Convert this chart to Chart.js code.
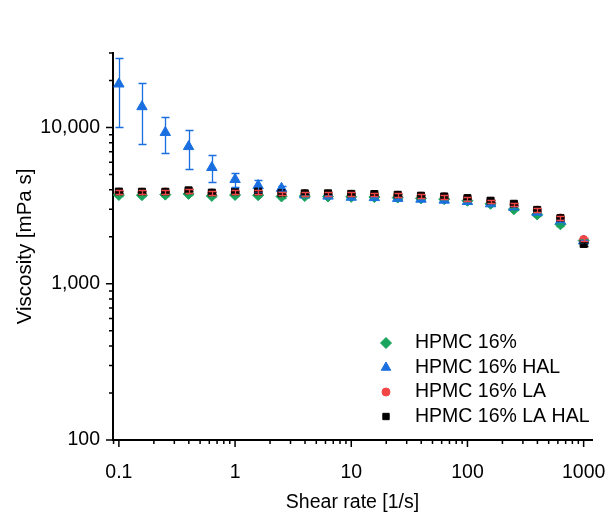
<!DOCTYPE html>
<html>
<head>
<meta charset="utf-8">
<script src="https://cdn.jsdelivr.net/npm/chart.js@4/dist/chart.umd.min.js"></script>
<style>
  html, body { margin: 0; padding: 0; background: #fff; }
  #wrap { width: 605px; height: 525px; }
</style>
</head>
<body>
<div id="wrap"><canvas id="chart"></canvas></div>
<script>
// shear rate [1/s]
const shearRate = [0.1, 0.158, 0.251, 0.398, 0.631, 1, 1.58, 2.51, 3.98, 6.31, 10, 15.8, 25.1, 39.8, 63.1, 100, 158, 251, 398, 631, 1000];

// viscosity [mPa s]
const hpmc = [3700, 3690, 3720, 3760, 3650, 3700, 3690, 3620, 3640, 3620, 3600, 3590, 3560, 3520, 3480, 3400, 3250, 3000, 2780, 2400, 1890];
const hpmcErr = [60, 60, 60, 60, 60, 60, 60, 60, 50, 50, 50, 50, 50, 50, 50, 50, 50, 50, 50, 50, 40];

const hpmcHal = [19000, 13600, 9300, 7550, 5550, 4650, 4250, 4080, 3700, 3640, 3580, 3560, 3520, 3480, 3430, 3360, 3250, 3080, 2850, 2520, 1880];
const hpmcHalErr = [8950, 5800, 2400, 2100, 1100, 500, 380, 150, 60, 50, 50, 50, 50, 50, 50, 50, 50, 50, 50, 50, 40];

const hpmcLa = [3860, 3860, 3870, 3930, 3810, 3860, 3860, 3790, 3770, 3760, 3740, 3720, 3690, 3640, 3600, 3510, 3370, 3220, 2960, 2640, 1920];
const hpmcLaErr = [110, 110, 110, 110, 110, 110, 110, 100, 100, 100, 100, 100, 100, 100, 100, 100, 90, 90, 80, 70, 50];

const hpmcLaHal = [3890, 3880, 3880, 3960, 3830, 3890, 3890, 3800, 3790, 3790, 3760, 3750, 3710, 3660, 3620, 3530, 3400, 3250, 2970, 2630, 1800];
const hpmcLaHalErr = [60, 60, 60, 60, 60, 60, 60, 60, 60, 60, 60, 60, 60, 60, 60, 60, 60, 60, 60, 60, 50];

const xTicks = [0.1, 1, 10, 100, 1000];
const yTicks = [100, 1000, 10000];

const FONT = 'Liberation Sans, Arial, sans-serif';

const toPoints = (ys) => shearRate.map((x, i) => ({ x: x, y: ys[i] }));

const series = [
  { label: 'HPMC 16%', data: hpmc, err: hpmcErr, color: '#19a35c', style: 'rectRot', r: 5.5, legR: 5.5, order: 3 },
  { label: 'HPMC 16% HAL', data: hpmcHal, err: hpmcHalErr, color: '#1a6fe0', style: 'triangle', r: 6, legR: 5.5, order: 2 },
  { label: 'HPMC 16% LA', data: hpmcLa, err: hpmcLaErr, color: '#f24646', style: 'circle', r: 4, legR: 4, order: 1 },
  { label: 'HPMC 16% LA HAL', data: hpmcLaHal, err: hpmcLaHalErr, color: '#000000', style: 'rect', r: 5, legR: 4.5, order: 0 },
];

// error bars, drawn after all markers
const errorBars = {
  id: 'errorBars',
  afterDatasetsDraw(chart) {
    const ctx = chart.ctx;
    const ys = chart.scales.y;
    const xs = chart.scales.x;
    const drawOrder = [0, 1, 3, 2];
    ctx.save();
    ctx.lineWidth = 1.3;
    drawOrder.forEach(di => {
      const s = series[di];
      ctx.strokeStyle = s.color;
      s.data.forEach((v, i) => {
        const px = Math.round(xs.getPixelForValue(shearRate[i])) + 0.5;
        const top = Math.round(ys.getPixelForValue(v + s.err[i])) + 0.5;
        const bot = Math.round(ys.getPixelForValue(v - s.err[i])) + 0.5;
        ctx.beginPath();
        ctx.moveTo(px, top); ctx.lineTo(px, bot);
        ctx.moveTo(px - 4, top); ctx.lineTo(px + 4, top);
        ctx.moveTo(px - 4, bot); ctx.lineTo(px + 4, bot);
        ctx.stroke();
      });
    });
    ctx.restore();
  }
};

// major and minor tick marks on the log axes
const logTicks = {
  id: 'logTicks',
  afterDraw(chart) {
    const ctx = chart.ctx;
    const xs = chart.scales.x;
    const ys = chart.scales.y;
    const area = chart.chartArea;
    ctx.save();
    ctx.strokeStyle = '#000';
    ctx.lineWidth = 1.5;
    ctx.beginPath();
    for (let e = -2; e <= 4; e++) {
      for (let m = 1; m <= 9; m++) {
        const v = m * Math.pow(10, e);
        const len = m === 1 ? 7 : 4;
        if (v >= xs.min * 0.9999 && v <= xs.max * 1.0001) {
          const px = xs.getPixelForValue(v);
          ctx.moveTo(px, area.bottom);
          ctx.lineTo(px, area.bottom + len);
        }
        if (v >= ys.min * 0.9999 && v <= ys.max * 1.0001) {
          const py = ys.getPixelForValue(v);
          ctx.moveTo(area.left, py);
          ctx.lineTo(area.left - len, py);
        }
      }
    }
    ctx.stroke();
    ctx.restore();
  }
};

// legend inside the plot, bottom right
const innerLegend = {
  id: 'innerLegend',
  afterDraw(chart) {
    const ctx = chart.ctx;
    const area = chart.chartArea;
    const mx = area.right - 206;
    const tx = area.right - 177;
    const y0 = area.bottom - 97;
    ctx.save();
    ctx.font = '19.5px ' + FONT;
    ctx.textBaseline = 'middle';
    ctx.textAlign = 'left';
    series.forEach((s, i) => {
      const y = y0 + i * 24.5;
      ctx.fillStyle = s.color;
      ctx.strokeStyle = s.color;
      ctx.lineWidth = 1;
      Chart.helpers.drawPoint(ctx, { pointStyle: s.style, radius: s.legR, rotation: 0, borderWidth: 1 }, mx, y);
      ctx.fillStyle = '#000';
      ctx.fillText(s.label, tx, y);
    });
    ctx.restore();
  }
};

new Chart(document.getElementById('chart'), {
  type: 'scatter',
  data: {
    datasets: series.map(s => ({
      label: s.label,
      data: toPoints(s.data),
      pointStyle: s.style,
      pointRadius: s.r,
      pointHoverRadius: s.r,
      backgroundColor: s.color,
      borderColor: s.color,
      borderWidth: 1,
      showLine: false,
      order: s.order,
    })),
  },
  options: {
    responsive: true,
    maintainAspectRatio: false,
    animation: false,
    events: [],
    layout: { padding: { top: 53, right: 13, left: 0, bottom: 0 } },
    plugins: {
      legend: { display: false },
      tooltip: { enabled: false },
    },
    scales: {
      x: {
        type: 'logarithmic',
        min: 0.089,
        max: 1180,
        afterBuildTicks: (scale) => { scale.ticks = xTicks.map(v => ({ value: v })); },
        afterFit: (scale) => { scale.height = 85; scale.paddingLeft = 0; scale.paddingRight = 0; },
        grid: { display: false, drawTicks: false },
        border: { display: true, color: '#000', width: 2 },
        ticks: {
          color: '#000',
          font: { family: FONT, size: 19.5 },
          padding: 21,
          maxRotation: 0,
          autoSkip: false,
          callback: (v) => String(v),
        },
        title: {
          display: true,
          text: 'Shear rate [1/s]',
          color: '#000',
          font: { family: FONT, size: 19.5 },
          padding: { top: 0, bottom: 11 },
        },
      },
      y: {
        type: 'logarithmic',
        min: 100,
        max: 30000,
        afterBuildTicks: (scale) => { scale.ticks = yTicks.map(v => ({ value: v })); },
        afterFit: (scale) => { scale.width = 113; scale.paddingTop = 0; scale.paddingBottom = 0; },
        grid: { display: false, drawTicks: false },
        border: { display: true, color: '#000', width: 2 },
        ticks: {
          color: '#000',
          font: { family: FONT, size: 19.5 },
          padding: 13,
          autoSkip: false,
          callback: (v) => v.toLocaleString('en-US'),
        },
        title: {
          display: true,
          text: 'Viscosity [mPa s]',
          color: '#000',
          font: { family: FONT, size: 20.5 },
          padding: { top: 13, bottom: 0 },
        },
      },
    },
  },
  plugins: [errorBars, logTicks, innerLegend],
});
</script>
</body>
</html>
